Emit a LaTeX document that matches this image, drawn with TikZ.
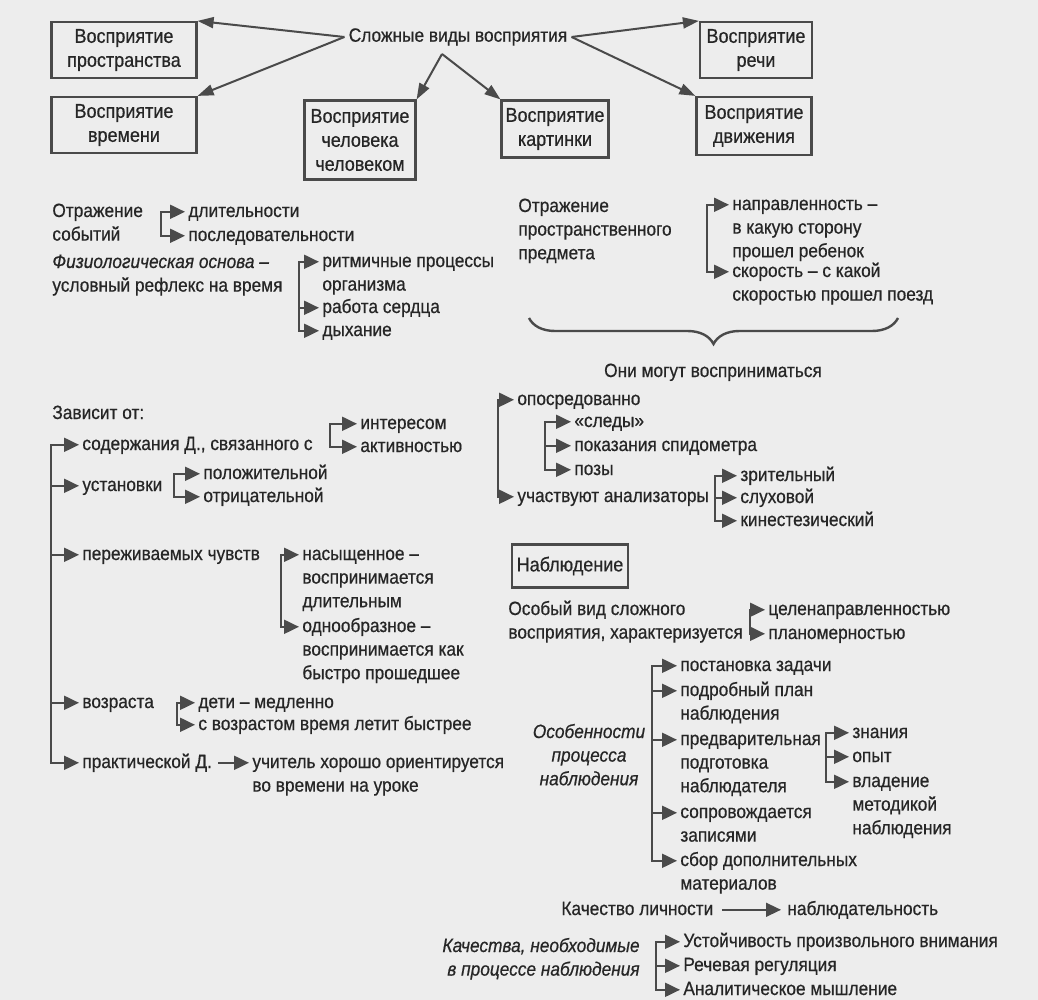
\documentclass[tikz,border=0pt]{standalone}
\usepackage{fontspec}
\setmainfont{Liberation Sans}[FakeStretch=0.9, FakeBold=0.6]
\usepackage{xcolor}
\definecolor{inkGray}{HTML}{262626}
\definecolor{lineGray}{HTML}{4A4A4A}
\definecolor{paperGray}{HTML}{EDEDED}
\usetikzlibrary{arrows.meta, decorations.pathreplacing}
% multi-line texts hang from their first line
\newcommand\lrows[1]{\begin{tabular}[t]{@{}l@{}}#1\end{tabular}}
\newcommand\crows[1]{\begin{tabular}[t]{@{}c@{}}#1\end{tabular}}
\newcommand\rrows[1]{\begin{tabular}[t]{@{}r@{}}#1\end{tabular}}

\begin{document}
\begin{tikzpicture}[
    x=0.5pt, y=-0.5pt,
    every node/.style={text=inkGray, font=\fontsize{9.6pt}{11.8pt}\selectfont},
    txt/.style  ={anchor=base west, inner sep=0pt},
    kind/.style ={rectangle, draw=lineGray, line width=1.1pt, align=center, inner sep=2pt,
                  font=\fontsize{10pt}{12pt}\selectfont},
    big/.style  ={-{Triangle[length=8pt,width=5.5pt]}, line width=1pt, draw=lineGray},
    bar/.style  ={line width=1pt, line cap=rect, draw=lineGray, transform canvas={yshift=2.6pt}},
    stub/.style ={bar, line cap=butt, -{Triangle[length=7.5pt,width=7pt]}, shorten >=1.5pt},
    curly/.style={decorate, decoration={brace, mirror, amplitude=13pt}, line width=1.2pt, draw=lineGray}
]
\fill[paperGray] (0,0) rectangle (1038,1000);
\useasboundingbox (0,0) rectangle (1038,1000);

% complex kinds of perception
\node[inner sep=2pt] (title) at (458,37) {Сложные виды восприятия};
\node[kind, minimum width=72.5pt, minimum height=28pt]   (prostr) at (124,50)  {Восприятие\\пространства};
\node[kind, minimum width=72.5pt, minimum height=28pt]   (vremya) at (124,125) {Восприятие\\времени};
\node[kind, minimum width=55.5pt, minimum height=39.5pt] (chel)   at (360,140) {Восприятие\\человека\\человеком};
\node[kind, minimum width=52.5pt, minimum height=28.5pt] (kart)   at (555,129) {Восприятие\\картинки};
\node[kind, minimum width=56pt, minimum height=28pt]     (rechi)  at (756,50)  {Восприятие\\речи};
\node[kind, minimum width=57.5pt, minimum height=29pt]   (dvizh)  at (754,126) {Восприятие\\движения};
\coordinate (split) at (442,54);

\draw[big] (title.west) -- (prostr.north east);
\draw[big] (title.west) -- (vremya.north east);
\draw[big] (title.east) -- (rechi.north west);
\draw[big] (title.east) -- (dvizh.north west);
\draw[big] (split) -- (chel.north east);
\draw[big] (split) -- (kart.north west);

% time
\node[txt] (otr1) at (52,217)  {\lrows{Отражение\\событий}};
\node[txt] (dlit) at (188,217) {длительности};
\node[txt] (posl) at (188,241) {последовательности};
\node[txt] (fiz)  at (52,268)  {\lrows{\itshape Физиологическая основа –\\условный рефлекс на время}};
\node[txt] (ritm) at (322,267) {\lrows{ритмичные процессы\\организма}};
\node[txt] (serd) at (322,313) {работа сердца};
\node[txt] (dyh)  at (322,336) {дыхание};
\coordinate (b1) at (161,0);
\coordinate (b2) at (299,0);

\draw[bar]  (b1 |- dlit.base west) -- (b1 |- posl.base west);
\draw[stub] (b1 |- dlit.base west) -- (dlit.base west);
\draw[stub] (b1 |- posl.base west) -- (posl.base west);
\draw[bar]  (b2 |- ritm.base west) -- (b2 |- dyh.base west);
\draw[stub] (b2 |- ritm.base west) -- (ritm.base west);
\draw[stub] (b2 |- serd.base west) -- (serd.base west);
\draw[stub] (b2 |- dyh.base west) -- (dyh.base west);

% space
\node[txt] (otr2) at (518,212) {\lrows{Отражение\\пространственного\\предмета}};
\node[txt] (napr) at (732,210) {\lrows{направленность –\\в какую сторону\\прошел ребенок}};
\node[txt] (skor) at (732,277) {\lrows{скорость – с какой\\скоростью прошел поезд}};
\node[anchor=base, inner sep=0pt] (oni) at (713,377) {Они могут восприниматься};
\coordinate (b3) at (707,0);
\coordinate (braceL) at (529,318);
\coordinate (braceR) at (898,318);

\draw[bar]  (b3 |- napr.base west) -- (b3 |- skor.base west);
\draw[stub] (b3 |- napr.base west) -- (napr.base west);
\draw[stub] (b3 |- skor.base west) -- (skor.base west);
\draw[curly] (braceL) -- (braceR);

% depends on
\node[txt] (zav)    at (52,419)  {Зависит от:};
\node[txt] (sod)    at (82,450)  {содержания Д., связанного с};
\node[txt] (inter)  at (360,429) {интересом};
\node[txt] (aktiv)  at (360,452) {активностью};
\node[txt] (ust)    at (82,491)  {установки};
\node[txt] (polozh) at (203,479) {положительной};
\node[txt] (otric)  at (203,502) {отрицательной};
\node[txt] (per)    at (82,560)  {переживаемых чувств};
\node[txt] (nas)    at (302,560) {\lrows{насыщенное –\\воспринимается\\длительным}};
\node[txt] (odn)    at (302,632) {\lrows{однообразное –\\воспринимается как\\быстро прошедшее}};
\node[txt] (voz)    at (82,708)  {возраста};
\node[txt] (deti)   at (198,708) {дети – медленно};
\node[txt] (svoz)   at (198,730) {с возрастом время летит быстрее};
\node[txt] (prak)   at (82,768)  {практической Д.};
\node[txt] (uch)    at (252,768) {\lrows{учитель хорошо ориентируется\\во времени на уроке}};
\coordinate (b4) at (51,0);
\coordinate (b5) at (330,0);
\coordinate (b6) at (174,0);
\coordinate (b7) at (281,0);
\coordinate (b8) at (177,0);

\draw[bar]  (b4 |- sod.base west) -- (b4 |- prak.base west);
\draw[stub] (b4 |- sod.base west) -- (sod.base west);
\draw[stub] (b4 |- ust.base west) -- (ust.base west);
\draw[stub] (b4 |- per.base west) -- (per.base west);
\draw[stub] (b4 |- voz.base west) -- (voz.base west);
\draw[stub] (b4 |- prak.base west) -- (prak.base west);
\draw[bar]  (b5 |- inter.base west) -- (b5 |- aktiv.base west);
\draw[stub] (b5 |- inter.base west) -- (inter.base west);
\draw[stub] (b5 |- aktiv.base west) -- (aktiv.base west);
\draw[bar]  (b6 |- polozh.base west) -- (b6 |- otric.base west);
\draw[stub] (b6 |- polozh.base west) -- (polozh.base west);
\draw[stub] (b6 |- otric.base west) -- (otric.base west);
\draw[bar]  (b7 |- nas.base west) -- (b7 |- odn.base west);
\draw[stub] (b7 |- nas.base west) -- (nas.base west);
\draw[stub] (b7 |- odn.base west) -- (odn.base west);
\draw[bar]  (b8 |- deti.base west) -- (b8 |- svoz.base west);
\draw[stub] (b8 |- deti.base west) -- (deti.base west);
\draw[stub] (b8 |- svoz.base west) -- (svoz.base west);
\draw[stub, shorten <=3pt] (prak.base east) -- (uch.base west);

% how they are perceived
\node[txt] (opos)  at (517,405) {опосредованно};
\node[txt] (sledy) at (574,427) {«следы»};
\node[txt] (pokaz) at (574,451) {показания спидометра};
\node[txt] (pozy)  at (574,475) {позы};
\node[txt] (uchan) at (517,502) {участвуют анализаторы};
\node[txt] (zrit)  at (740,481) {зрительный};
\node[txt] (sluh)  at (740,503) {слуховой};
\node[txt] (kin)   at (740,526) {кинестезический};
\coordinate (b9)  at (498,0);
\coordinate (b10) at (545,0);
\coordinate (b11) at (715,0);

\draw[bar]  (b9 |- opos.base west) -- (b9 |- uchan.base west);
\draw[stub] (b9 |- opos.base west) -- (opos.base west);
\draw[stub] (b9 |- uchan.base west) -- (uchan.base west);
\draw[bar]  (b10 |- sledy.base west) -- (b10 |- pozy.base west);
\draw[stub] (b10 |- sledy.base west) -- (sledy.base west);
\draw[stub] (b10 |- pokaz.base west) -- (pokaz.base west);
\draw[stub] (b10 |- pozy.base west) -- (pozy.base west);
\draw[bar]  (b11 |- zrit.base west) -- (b11 |- kin.base west);
\draw[stub] (b11 |- zrit.base west) -- (zrit.base west);
\draw[stub] (b11 |- sluh.base west) -- (sluh.base west);
\draw[stub] (b11 |- kin.base west) -- (kin.base west);

% observation
\node[kind, minimum width=58pt, minimum height=21.5pt] (nabl) at (570,566) {Наблюдение};
\node[txt] (osob)   at (508,615) {\lrows{Особый вид сложного\\восприятия, характеризуется}};
\node[txt] (celen)  at (768,615) {целенаправленностью};
\node[txt] (planom) at (768,639) {планомерностью};
\coordinate (b12) at (750,0);

\draw[bar]  (b12 |- celen.base west) -- (b12 |- planom.base west);
\draw[stub] (b12 |- celen.base west) -- (celen.base west);
\draw[stub] (b12 |- planom.base west) -- (planom.base west);

\node[anchor=base, inner sep=0pt, font=\fontsize{9.6pt}{11.8pt}\selectfont\itshape] (osobpr) at (589,738) {\crows{Особенности\\процесса\\наблюдения}};
\node[txt] (post) at (680,671) {постановка задачи};
\node[txt] (podr) at (680,696) {\lrows{подробный план\\наблюдения}};
\node[txt] (pred) at (680,745) {\lrows{предварительная\\подготовка\\наблюдателя}};
\node[txt] (sopr) at (680,818) {\lrows{сопровождается\\записями}};
\node[txt] (sbor) at (680,866) {\lrows{сбор дополнительных\\материалов}};
\node[txt] (znan) at (852,738) {знания};
\node[txt] (opyt) at (852,762) {опыт};
\node[txt] (vlad) at (852,787) {\lrows{владение\\методикой\\наблюдения}};
\coordinate (b13) at (652,0);
\coordinate (b14) at (826,0);

\draw[bar]  (b13 |- post.base west) -- (b13 |- sbor.base west);
\draw[stub] (b13 |- post.base west) -- (post.base west);
\draw[stub] (b13 |- podr.base west) -- (podr.base west);
\draw[stub] (b13 |- pred.base west) -- (pred.base west);
\draw[stub] (b13 |- sopr.base west) -- (sopr.base west);
\draw[stub] (b13 |- sbor.base west) -- (sbor.base west);
\draw[bar]  (b14 |- znan.base west) -- (b14 |- vlad.base west);
\draw[stub] (b14 |- znan.base west) -- (znan.base west);
\draw[stub] (b14 |- opyt.base west) -- (opyt.base west);
\draw[stub] (b14 |- vlad.base west) -- (vlad.base west);

\node[txt] (kach)   at (561,915) {Качество личности};
\node[txt] (nablud) at (787,915) {наблюдательность};
\draw[stub, line width=0.7pt, shorten <=4pt, shorten >=3pt] (kach.base east) -- (nablud.base west);

\node[anchor=base east, inner sep=0pt, font=\fontsize{9.6pt}{11.8pt}\selectfont\itshape] (kach2) at (640,952) {\rrows{Качества, необходимые\\в процессе наблюдения}};
\node[txt] (ustoj) at (683,947) {Устойчивость произвольного внимания};
\node[txt] (rech)  at (683,971) {Речевая регуляция};
\node[txt] (anal)  at (683,995) {Аналитическое мышление};
\coordinate (b15) at (656,0);

\draw[bar]  (b15 |- ustoj.base west) -- (b15 |- anal.base west);
\draw[stub] (b15 |- ustoj.base west) -- (ustoj.base west);
\draw[stub] (b15 |- rech.base west) -- (rech.base west);
\draw[stub] (b15 |- anal.base west) -- (anal.base west);
\end{tikzpicture}
\end{document}
